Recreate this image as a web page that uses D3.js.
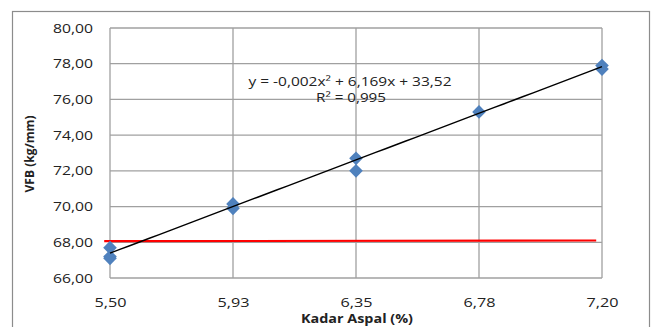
<!DOCTYPE html>
<html>
<head>
<meta charset="utf-8">
<script src="https://cdn.jsdelivr.net/npm/d3@7"></script>
<style>
  html, body { margin: 0; padding: 0; background: #fff; }
  svg { display: block; }
  text { font-family: "Open Sans", "Liberation Sans", sans-serif; }
</style>
</head>
<body>
<svg id="chart" width="659" height="327"></svg>
<script>
// ---- data ----
const xTicks = [5.50, 5.925, 6.35, 6.775, 7.20];
const xTickLabels = ["5,50", "5,93", "6,35", "6,78", "7,20"];
const yTicks = [66, 68, 70, 72, 74, 76, 78, 80];
const pointX = [5.50, 5.50, 5.50, 5.925, 5.925, 6.35, 6.35, 6.775, 7.20, 7.20];
const pointY = [67.70, 67.20, 67.10, 70.15, 69.90, 72.70, 72.00, 75.30, 77.90, 77.70];
const trendCoef = [-0.002, 6.169, 33.52]; // a, b, c
const limitX = [5.48, 7.18];
const limitY = [68.06, 68.10];
const eqText = ["y = -0,002x\u00B2 + 6,169x + 33,52", "R\u00B2 = 0,995"];
const xTitle = "Kadar Aspal  (%)";
const yTitle = "VFB (kg/mm)";

// ---- layout ----
const svg = d3.select("#chart");
const L = 110, R = 602, T = 28, B = 278;
const x = d3.scaleLinear().domain([5.5, 7.2]).range([L, R]);
const y = d3.scaleLinear().domain([66, 80]).range([B, T]);
const gridColor = "#a0a0a0";

// outer chart border
svg.append("rect").attr("x", 12.5).attr("y", 11.5).attr("width", 637).attr("height", 330)
  .attr("fill", "none").attr("stroke", "#8c8c8c").attr("stroke-width", 1.2);

// gridlines
svg.append("g").selectAll("line").data(yTicks).join("line")
  .attr("x1", L).attr("x2", R).attr("y1", d => y(d)).attr("y2", d => y(d))
  .attr("stroke", gridColor).attr("stroke-width", 1.3);
svg.append("g").selectAll("line").data(xTicks).join("line")
  .attr("y1", T).attr("y2", B).attr("x1", d => x(d)).attr("x2", d => x(d))
  .attr("stroke", gridColor).attr("stroke-width", 1.3);

// axes (labels only)
const yAxis = d3.axisLeft(y).tickValues(yTicks).tickSize(0).tickPadding(17)
  .tickFormat(d => d3.format(".2f")(d).replace(".", ","));
const gy = svg.append("g").attr("transform", `translate(${L},0)`).call(yAxis);
gy.select(".domain").remove();
gy.selectAll("text").attr("font-size", 12.5).attr("fill", "#222")
  .attr("textLength", 40).attr("lengthAdjust", "spacingAndGlyphs")
  .style("font-family", "'Open Sans', sans-serif");

const xAxis = d3.axisBottom(x).tickValues(xTicks).tickSize(0).tickPadding(20)
  .tickFormat((d, i) => xTickLabels[i]);
const gx = svg.append("g").attr("transform", `translate(0,${B})`).call(xAxis);
gx.select(".domain").remove();
gx.selectAll("text").attr("font-size", 12.5).attr("fill", "#222")
  .attr("textLength", 32).attr("lengthAdjust", "spacingAndGlyphs")
  .style("font-family", "'Open Sans', sans-serif");

// red limit line
svg.append("path")
  .datum(limitX.map((d, i) => [d, limitY[i]]))
  .attr("d", d3.line().x(d => x(d[0])).y(d => y(d[1])))
  .attr("stroke", "#ff0000").attr("stroke-width", 2.2).attr("fill", "none");

// points
const diamond = d3.symbol().type(d3.symbolDiamond).size(54);
svg.append("g").selectAll("path").data(pointX.map((d, i) => [d, pointY[i]])).join("path")
  .attr("d", diamond)
  .attr("transform", d => `translate(${x(d[0])},${y(d[1])}) scale(1.73,1)`)
  .attr("fill", "#4f81bd");

// trend line
const trendXs = d3.range(0, 51).map(i => 5.5 + i * (7.2 - 5.5) / 50);
svg.append("path")
  .datum(trendXs.map(v => [v, trendCoef[0] * v * v + trendCoef[1] * v + trendCoef[2]]))
  .attr("d", d3.line().x(d => x(d[0])).y(d => y(d[1])))
  .attr("stroke", "#000").attr("stroke-width", 1.4).attr("fill", "none");

// equation
svg.append("text").attr("x", 350).attr("y", 86).attr("text-anchor", "middle")
  .attr("font-size", 12.5).attr("fill", "#222")
  .attr("textLength", 203).attr("lengthAdjust", "spacingAndGlyphs").text(eqText[0]);
svg.append("text").attr("x", 351).attr("y", 102).attr("text-anchor", "middle")
  .attr("font-size", 12.5).attr("fill", "#222")
  .attr("textLength", 70).attr("lengthAdjust", "spacingAndGlyphs").text(eqText[1]);

// titles
svg.append("text").attr("x", 357).attr("y", 323).attr("text-anchor", "middle")
  .attr("font-size", 12.5).attr("font-weight", "bold").attr("fill", "#222")
  .attr("textLength", 112).attr("lengthAdjust", "spacingAndGlyphs").text(xTitle);
svg.append("text").attr("transform", "translate(34,154) rotate(-90)").attr("text-anchor", "middle")
  .attr("font-size", 12).attr("font-weight", "bold").attr("fill", "#222")
  .attr("textLength", 77).attr("lengthAdjust", "spacingAndGlyphs").text(yTitle);
</script>
</body>
</html>
